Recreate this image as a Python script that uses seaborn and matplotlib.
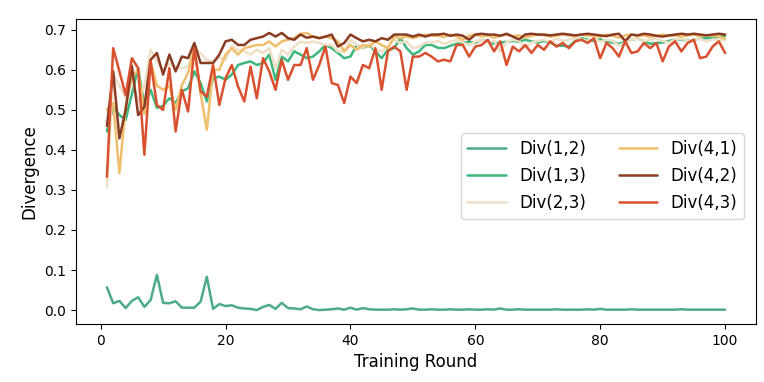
import numpy as np
import pandas as pd
import matplotlib
matplotlib.use("Agg")
import matplotlib.pyplot as plt
import seaborn as sns

# divergence between agent pairs
rounds = list(range(1, 101))

div_1_2 = [
    0.057, 0.017, 0.023, 0.005, 0.023, 0.032, 0.008, 0.025, 0.088, 0.018,
    0.017, 0.022, 0.006, 0.006, 0.006, 0.021, 0.083, 0.003, 0.015, 0.010,
    0.012, 0.006, 0.004, 0.003, 0.000, 0.008, 0.013, 0.003, 0.018, 0.005,
    0.004, 0.002, 0.009, 0.002, 0.000, 0.001, 0.002, 0.004, 0.001, 0.006,
    0.001, 0.005, 0.002, 0.001, 0.001, 0.001, 0.002, 0.001, 0.002, 0.004,
    0.001, 0.001, 0.002, 0.001, 0.001, 0.002, 0.001, 0.001, 0.002, 0.001,
    0.001, 0.002, 0.001, 0.004, 0.001, 0.001, 0.002, 0.001, 0.001, 0.001,
    0.001, 0.001, 0.002, 0.001, 0.001, 0.001, 0.001, 0.002, 0.001, 0.003,
    0.001, 0.001, 0.001, 0.001, 0.002, 0.001, 0.001, 0.001, 0.001, 0.001,
    0.001, 0.001, 0.002, 0.001, 0.001, 0.001, 0.001, 0.001, 0.001, 0.001,
]

div_1_3 = [
    0.446, 0.508, 0.487, 0.475, 0.540, 0.604, 0.510, 0.550, 0.505, 0.510,
    0.529, 0.517, 0.546, 0.554, 0.596, 0.567, 0.521, 0.579, 0.583, 0.575,
    0.588, 0.612, 0.617, 0.621, 0.612, 0.617, 0.638, 0.575, 0.633, 0.621,
    0.646, 0.638, 0.629, 0.633, 0.646, 0.662, 0.654, 0.642, 0.629, 0.633,
    0.662, 0.654, 0.662, 0.646, 0.629, 0.650, 0.654, 0.679, 0.654, 0.638,
    0.646, 0.662, 0.662, 0.655, 0.654, 0.660, 0.665, 0.667, 0.670, 0.667,
    0.675, 0.670, 0.665, 0.668, 0.670, 0.672, 0.670, 0.675, 0.671, 0.668,
    0.672, 0.668, 0.660, 0.660, 0.658, 0.672, 0.679, 0.675, 0.672, 0.676,
    0.670, 0.668, 0.665, 0.670, 0.675, 0.678, 0.672, 0.665, 0.667, 0.668,
    0.672, 0.675, 0.676, 0.672, 0.675, 0.678, 0.679, 0.680, 0.682, 0.685,
]

div_2_3 = [
    0.308, 0.590, 0.560, 0.530, 0.580, 0.520, 0.560, 0.650, 0.620, 0.600,
    0.615, 0.608, 0.604, 0.608, 0.654, 0.642, 0.625, 0.620, 0.630, 0.625,
    0.660, 0.650, 0.646, 0.638, 0.650, 0.642, 0.654, 0.604, 0.650, 0.638,
    0.658, 0.670, 0.667, 0.671, 0.667, 0.662, 0.662, 0.646, 0.646, 0.675,
    0.662, 0.654, 0.667, 0.650, 0.646, 0.658, 0.675, 0.667, 0.671, 0.654,
    0.658, 0.667, 0.668, 0.672, 0.665, 0.670, 0.675, 0.668, 0.662, 0.670,
    0.675, 0.668, 0.672, 0.645, 0.670, 0.675, 0.672, 0.655, 0.668, 0.672,
    0.675, 0.670, 0.678, 0.672, 0.675, 0.680, 0.676, 0.672, 0.678, 0.670,
    0.675, 0.672, 0.660, 0.668, 0.675, 0.678, 0.672, 0.675, 0.678, 0.672,
    0.668, 0.675, 0.678, 0.672, 0.675, 0.678, 0.670, 0.676, 0.674, 0.675,
]

div_4_1 = [
    0.500, 0.517, 0.342, 0.508, 0.583, 0.600, 0.490, 0.620, 0.560, 0.550,
    0.560, 0.500, 0.562, 0.592, 0.654, 0.542, 0.450, 0.600, 0.600, 0.638,
    0.654, 0.638, 0.654, 0.658, 0.662, 0.662, 0.671, 0.658, 0.671, 0.675,
    0.679, 0.690, 0.692, 0.683, 0.679, 0.683, 0.679, 0.671, 0.646, 0.662,
    0.650, 0.662, 0.658, 0.671, 0.662, 0.654, 0.683, 0.679, 0.683, 0.679,
    0.683, 0.688, 0.685, 0.685, 0.682, 0.688, 0.683, 0.675, 0.685, 0.688,
    0.683, 0.686, 0.680, 0.685, 0.688, 0.684, 0.686, 0.680, 0.685, 0.688,
    0.686, 0.683, 0.685, 0.688, 0.686, 0.684, 0.688, 0.685, 0.686, 0.682,
    0.688, 0.685, 0.680, 0.686, 0.688, 0.684, 0.686, 0.682, 0.685, 0.688,
    0.684, 0.686, 0.683, 0.686, 0.688, 0.684, 0.686, 0.685, 0.683, 0.678,
]

div_4_2 = [
    0.460, 0.596, 0.429, 0.500, 0.610, 0.487, 0.508, 0.625, 0.642, 0.588,
    0.638, 0.596, 0.633, 0.629, 0.667, 0.617, 0.617, 0.617, 0.638, 0.671,
    0.675, 0.662, 0.662, 0.675, 0.679, 0.683, 0.692, 0.683, 0.692, 0.679,
    0.675, 0.688, 0.680, 0.683, 0.679, 0.683, 0.688, 0.658, 0.667, 0.688,
    0.679, 0.671, 0.675, 0.671, 0.679, 0.675, 0.688, 0.688, 0.688, 0.683,
    0.688, 0.683, 0.688, 0.688, 0.690, 0.685, 0.688, 0.685, 0.675, 0.688,
    0.690, 0.688, 0.688, 0.685, 0.690, 0.683, 0.676, 0.688, 0.690, 0.688,
    0.688, 0.686, 0.688, 0.690, 0.688, 0.686, 0.688, 0.690, 0.688, 0.686,
    0.684, 0.688, 0.690, 0.672, 0.688, 0.686, 0.690, 0.688, 0.685, 0.683,
    0.686, 0.688, 0.690, 0.688, 0.690, 0.688, 0.686, 0.688, 0.690, 0.688,
]

div_4_3 = [
    0.333, 0.654, 0.596, 0.537, 0.629, 0.604, 0.388, 0.621, 0.512, 0.500,
    0.604, 0.446, 0.550, 0.496, 0.654, 0.546, 0.533, 0.612, 0.512, 0.579,
    0.612, 0.558, 0.521, 0.608, 0.529, 0.629, 0.596, 0.550, 0.625, 0.575,
    0.612, 0.612, 0.654, 0.575, 0.612, 0.658, 0.567, 0.562, 0.517, 0.583,
    0.567, 0.612, 0.604, 0.654, 0.550, 0.646, 0.658, 0.646, 0.550, 0.633,
    0.633, 0.642, 0.633, 0.621, 0.625, 0.621, 0.662, 0.662, 0.633, 0.658,
    0.662, 0.675, 0.646, 0.671, 0.612, 0.658, 0.646, 0.662, 0.642, 0.662,
    0.650, 0.671, 0.658, 0.667, 0.654, 0.671, 0.675, 0.667, 0.679, 0.629,
    0.667, 0.654, 0.633, 0.671, 0.642, 0.646, 0.667, 0.654, 0.667, 0.621,
    0.658, 0.671, 0.646, 0.667, 0.675, 0.629, 0.633, 0.658, 0.671, 0.642,
]

labels = ["Div(1,2)", "Div(1,3)", "Div(2,3)", "Div(4,1)", "Div(4,2)", "Div(4,3)"]
series = [div_1_2, div_1_3, div_2_3, div_4_1, div_4_2, div_4_3]
colors = ["#4dab8b", "#3cb87e", "#efe0c5", "#f0bf6c", "#8a3b22", "#d9502f"]

sns.set_style("ticks", {
    "axes.edgecolor": "black",
    "axes.labelcolor": "black",
    "text.color": "black",
    "xtick.color": "black",
    "ytick.color": "black",
})
plt.rcParams["font.family"] = ["DejaVu Sans"]

df = pd.concat(
    [pd.DataFrame({"Training Round": rounds, "Divergence": vals, "pair": lab})
     for lab, vals in zip(labels, series)],
    ignore_index=True,
)

fig = plt.figure(figsize=(7.64, 3.82), dpi=100)
ax = fig.add_axes([0.0995, 0.152, 0.89, 0.798])

sns.lineplot(data=df, x="Training Round", y="Divergence", hue="pair",
             hue_order=labels, palette=colors, linewidth=1.8, ax=ax)

ax.set_xlabel("Training Round", fontsize=12)
ax.set_ylabel("Divergence", fontsize=12)
ax.tick_params(labelsize=10, color="black")
ax.set_xticks([0, 20, 40, 60, 80, 100])
ax.set_yticks([0.0, 0.1, 0.2, 0.3, 0.4, 0.5, 0.6, 0.7])

ax.legend(loc="center right", bbox_to_anchor=(0.995, 0.485), ncol=2,
          fontsize=12, handlelength=2.3, labelspacing=0.55,
          frameon=True, title=None)

fig.savefig("out.png", dpi=100)
